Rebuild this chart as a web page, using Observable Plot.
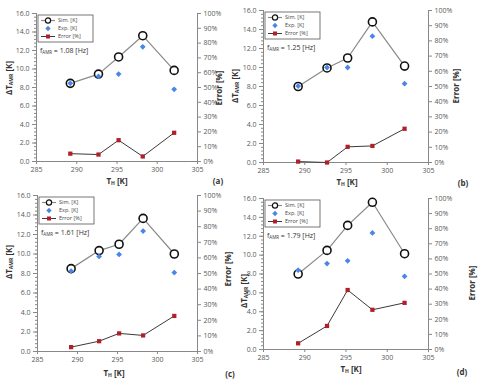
<!DOCTYPE html>
<html><head><meta charset="utf-8">
<script src="https://cdn.jsdelivr.net/npm/d3@7"></script>
<script src="https://cdn.jsdelivr.net/npm/@observablehq/plot@0.6"></script>
<style>
body{margin:0;background:#fff;}
#wrap{position:relative;width:480px;height:384px;overflow:hidden;background:#fff;font-family:"Open Sans",Lato,sans-serif;}
#wrap svg{position:absolute;overflow:visible;background:transparent;}
</style></head>
<body><div id="wrap"></div>
<script>
const tH = [289.2, 292.7, 295.2, 298.2, 302.1];
const simA = [8.45, 9.45, 11.3, 13.6, 9.85];
const expA = [8.45, 9.2, 9.45, 12.4, 7.8];
const errA = [5.3, 4.7, 14.4, 3.4, 19.4];
const simB = [8.0, 9.95, 11.0, 14.8, 10.15];
const expB = [8.05, 10.0, 10.0, 13.3, 8.3];
const errB = [0.6, 0.0, 10.3, 10.9, 22.2];
const simC = [8.5, 10.35, 11.0, 13.65, 10.0];
const expC = [8.25, 9.75, 9.95, 12.35, 8.1];
const errC = [2.8, 6.6, 11.6, 10.3, 22.8];
const simD = [8.0, 10.5, 13.15, 15.6, 10.15];
const expD = [8.4, 9.1, 9.4, 12.35, 7.75];
const errD = [4.1, 15.6, 39.4, 26.3, 30.9];
const freqs = ["1.08", "1.25", "1.61", "1.79"];
const panelLetters = ["(a)", "(b)", "(c)", "(d)"];
const xTicks = [285, 290, 295, 300, 305];
const yTicks = [0, 2, 4, 6, 8, 10, 12, 14, 16];
const yMinor = d3.range(0, 16.01, 0.4);
const errTicks = [0, 10, 20, 30, 40, 50, 60, 70, 80, 90, 100];
const legendLabels = ["Sim. [K]", "Exp. [K]", "Error [%]"];

const errMax = 100, yMax = 16;
const toLeft = e => e * yMax / errMax;

const series = [[simA, expA, errA], [simB, expB, errB], [simC, expC, errC], [simD, expD, errD]];

const layout = [
  {ox:0, oy:0, mL:36, mR:43, mT:13, mB:31, yt:[10,78], et:[220,88], xt:[117,182], lt:[218,182]},
  {ox:240, oy:0, mL:23, mR:52, mT:10, mB:30, yt:[-4,86], et:[217,86], xt:[107,183], lt:[223,184]},
  {ox:0, oy:192, mL:37, mR:43, mT:3, mB:33, yt:[10,70], et:[229,77], xt:[114,182], lt:[230,183]},
  {ox:240, oy:192, mL:23, mR:52, mT:6, mB:35, yt:[5,99], et:[233,91], xt:[111,178], lt:[222,181]}
];

const simColor = "#8a8a8a", expColor = "#4a86e8", errColor = "#b0202a", errLine = "#3a3a3a";
const wrap = document.getElementById("wrap");

series.forEach(([sim, exp, err], i) => {
  const L = layout[i];
  const data = tH.map((t, k) => ({t, sim: sim[k], exp: exp[k], err: err[k]}));
  const svg = Plot.plot({
    width: 240, height: 192,
    marginLeft: L.mL, marginRight: L.mR, marginTop: L.mT, marginBottom: L.mB,
    style: {fontSize: "7px", fontFamily: "'Open Sans', sans-serif", color: "#595959", overflow: "visible", background: "transparent"},
    x: {domain: [285, 305]},
    y: {domain: [0, 16]},
    marks: [
      Plot.axisX({ticks: xTicks, tickFormat: d => String(d), tickSize: 3, stroke: "#888", label: null, tickPadding: 3}),
      Plot.axisY({ticks: yTicks, tickFormat: d => d.toFixed(1), tickSize: 4, stroke: "#888", label: null, tickPadding: 3}),
      Plot.axisY({ticks: yMinor, tickFormat: () => "", tickSize: 2, stroke: "#888", label: null}),
      Plot.axisY({anchor: "right", ticks: errTicks.map(toLeft), tickFormat: d => Math.round(d * errMax / yMax) + "%", tickSize: 3, stroke: "#888", label: null, tickPadding: 3}),
      Plot.ruleX([285, 305], {stroke: "#888"}),
      Plot.ruleY([0], {stroke: "#888"}),
      Plot.line(data, {x: "t", y: "sim", stroke: simColor, strokeWidth: 1.2}),
      Plot.dot(data, {x: "t", y: "sim", r: 4, stroke: "#111", fill: "white", strokeWidth: 1.6}),
      Plot.dot(data, {x: "t", y: "exp", symbol: "diamond2", r: 2.6, fill: expColor}),
      Plot.line(data, {x: "t", y: d => toLeft(d.err), stroke: errLine, strokeWidth: 1}),
      Plot.dot(data, {x: "t", y: d => toLeft(d.err), symbol: "square", r: 2.4, fill: errColor})
    ]
  });
  svg.style.left = L.ox + "px";
  svg.style.top = L.oy + "px";
  wrap.appendChild(svg);

  const s = d3.select(svg);
  const font = "'Open Sans', sans-serif";
  const yt = s.append("text").attr("transform", `translate(${L.yt[0]},${L.yt[1]}) rotate(-90)`)
    .attr("text-anchor", "middle").attr("font-size", 8).attr("font-weight", "bold")
    .attr("fill", "#333").attr("font-family", font).attr("dominant-baseline", "middle");
  yt.append("tspan").text("ΔT");
  yt.append("tspan").attr("font-size", 5).attr("dy", 2).text("AMR");
  yt.append("tspan").attr("dy", -2).text(" [K]");
  s.append("text").attr("transform", `translate(${L.et[0]},${L.et[1]}) rotate(-90)`)
    .attr("text-anchor", "middle").attr("font-size", 8).attr("font-weight", "bold")
    .attr("fill", "#333").attr("font-family", font).attr("dominant-baseline", "middle").text("Error [%]");
  const xt = s.append("text").attr("x", L.xt[0]).attr("y", L.xt[1]).attr("text-anchor", "middle")
    .attr("font-size", 8).attr("font-weight", "bold").attr("fill", "#333").attr("font-family", font)
    .attr("dominant-baseline", "middle");
  xt.append("tspan").text("T");
  xt.append("tspan").attr("font-size", 5).attr("dy", 2).text("H");
  xt.append("tspan").attr("dy", -2).text(" [K]");
  s.append("text").attr("x", L.lt[0]).attr("y", L.lt[1]).attr("text-anchor", "middle")
    .attr("font-size", 8).attr("font-weight", "bold").attr("fill", "#333").attr("font-family", font)
    .attr("dominant-baseline", "middle").text(panelLetters[i]);

  const bx = L.mL + 2, by = L.mT + 2;
  const g = s.append("g").attr("transform", `translate(${bx},${by})`).attr("text-anchor", "start");
  g.append("rect").attr("width", 55).attr("height", 27).attr("fill", "white").attr("stroke", "#555").attr("stroke-width", 0.8);
  const rowY = [5.5, 13.5, 21.5];
  g.append("line").attr("x1", 3).attr("x2", 17).attr("y1", rowY[0]).attr("y2", rowY[0]).attr("stroke", simColor).attr("stroke-width", 1.2);
  g.append("circle").attr("cx", 10).attr("cy", rowY[0]).attr("r", 2.6).attr("fill", "white").attr("stroke", "#111").attr("stroke-width", 1.2);
  g.append("path").attr("d", d3.symbol(d3.symbolDiamond2 || d3.symbolSquare2, 18)()).attr("transform", `translate(10,${rowY[1]})`).attr("fill", expColor);
  g.append("line").attr("x1", 3).attr("x2", 17).attr("y1", rowY[2]).attr("y2", rowY[2]).attr("stroke", errLine).attr("stroke-width", 1);
  g.append("rect").attr("x", 8).attr("y", rowY[2] - 2).attr("width", 4).attr("height", 4).attr("fill", errColor);
  legendLabels.forEach((lab, k) => {
    g.append("text").attr("x", 20).attr("y", rowY[k]).attr("dominant-baseline", "middle").attr("text-anchor", "start")
      .attr("font-size", 5.5).attr("fill", "#444").attr("font-family", font).text(lab);
  });
  const ft = s.append("text").attr("x", L.mL + 4).attr("y", L.mT + 38).attr("font-size", 7).attr("text-anchor", "start")
    .attr("fill", "#333").attr("font-family", font).attr("dominant-baseline", "middle");
  ft.append("tspan").text("f");
  ft.append("tspan").attr("font-size", 4.5).attr("dy", 2).text("AMR");
  ft.append("tspan").attr("dy", -2).text(" = " + freqs[i] + " [Hz]");
});
</script>
</body></html>
